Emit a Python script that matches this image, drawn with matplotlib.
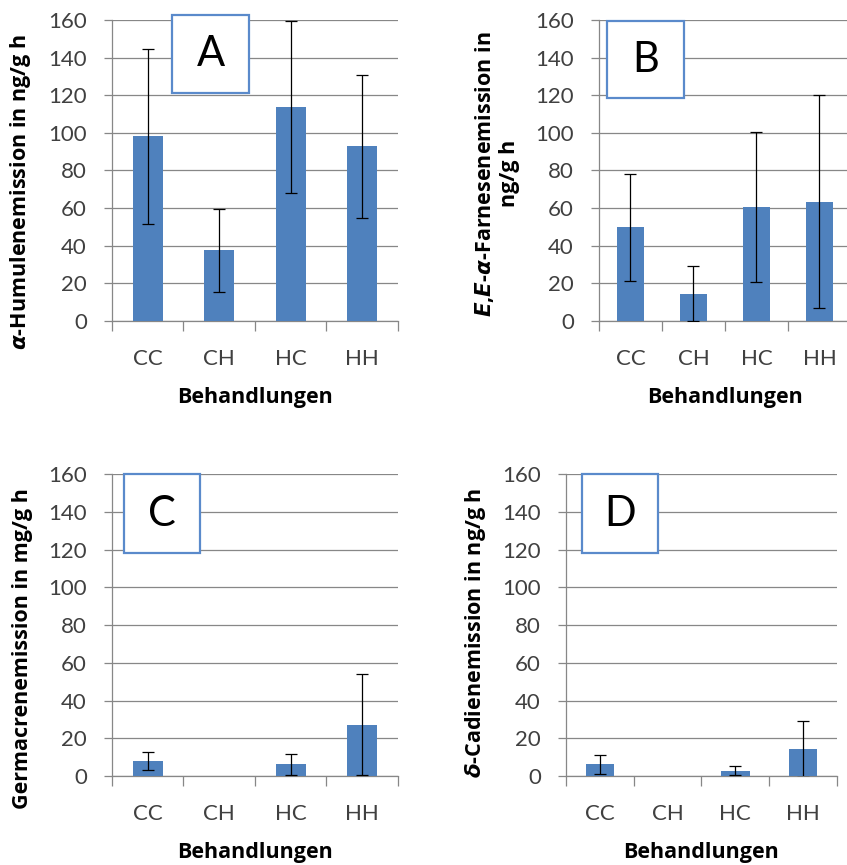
import matplotlib.pyplot as plt
from matplotlib.patches import Rectangle

plt.rcParams['font.family'] = ['Lato', 'DejaVu Sans']
plt.rcParams['mathtext.fontset'] = 'custom'
plt.rcParams['mathtext.it'] = 'DejaVu Sans:italic:bold'
plt.rcParams['mathtext.rm'] = 'Open Sans:bold'

# Treatments and mean emission +/- SD for each compound
behandlungen = ['CC', 'CH', 'HC', 'HH']
humulen = [98.2, 37.6, 113.7, 92.8]
humulen_sd = [46.5, 22.0, 45.7, 37.8]
farnesen = [49.8, 14.5, 60.6, 63.4]
farnesen_sd = [28.3, 14.6, 40.0, 56.5]
germacren = [8.1, 0.0, 6.2, 27.2]
germacren_sd = [4.7, 0.0, 5.5, 26.8]
cadien = [6.2, 0.0, 2.8, 14.2]
cadien_sd = [5.0, 0.0, 2.3, 14.7]

bar_color = '#4f81bd'
grid_color = '#878787'
box_color = '#5a8acb'
label_font = ['Open Sans', 'DejaVu Sans']

fig = plt.figure(figsize=(8.47, 8.65), dpi=100)

panels = [
    # axes rect, values, sd, ylabel, ylabel x/y, letter, letter box
    ([0.1322, 0.6289, 0.3377, 0.348], humulen, humulen_sd,
     r'$\mathit{α}$-Humulenemission in ng/g h', (0.039, 0.778), 'A',
     [0.2031, 0.8925, 0.0909, 0.0902]),
    ([0.7072, 0.6289, 0.2975, 0.348], farnesen, farnesen_sd,
     '$\\mathit{E}$,$\\mathit{E}$-$\\mathit{α}$-Farnesenemission in\nng/g h',
     (0.614, 0.799), 'B', [0.7166, 0.8867, 0.0909, 0.0890]),
    ([0.1322, 0.1029, 0.3377, 0.349], germacren, germacren_sd,
     'Germacrenemission in mg/g h', (0.039, 0.250), 'C',
     [0.1464, 0.3607, 0.0897, 0.0913]),
    ([0.6682, 0.1029, 0.3200, 0.349], cadien, cadien_sd,
     r'$\mathit{δ}$-Cadienemission in ng/g h', (0.576, 0.268), 'D',
     [0.6871, 0.3607, 0.0897, 0.0913]),
]

x = range(len(behandlungen))

for rect, vals, sd, ylab, ylab_pos, letter, box in panels:
    ax = fig.add_axes(rect)
    ax.bar(x, vals, width=0.42, color=bar_color, zorder=3)
    shown = [i for i, v in enumerate(vals) if v > 0]
    ax.errorbar([x[i] for i in shown], [vals[i] for i in shown],
                yerr=[sd[i] for i in shown], fmt='none', ecolor='black',
                elinewidth=0.9, capsize=4, capthick=0.9, zorder=4)

    ax.set_xlim(-0.5, 3.5)
    ax.set_ylim(0, 160)
    ax.set_yticks(range(0, 161, 20))
    ax.grid(True, axis='y', color=grid_color, linewidth=0.9, zorder=0)

    ax.set_xticks(list(x))
    ax.set_xticklabels(behandlungen)
    ax.set_xticks([-0.5, 0.5, 1.5, 2.5, 3.5], minor=True)
    ax.tick_params(axis='x', which='major', length=0, pad=20,
                   labelsize=16, labelcolor='#404040')
    ax.tick_params(axis='x', which='minor', length=7, width=0.9,
                   color=grid_color, direction='out')
    ax.tick_params(axis='y', length=6, width=0.9, color=grid_color,
                   pad=12, labelsize=16, labelcolor='#404040')

    for side in ['top', 'right']:
        ax.spines[side].set_visible(False)
    for side in ['left', 'bottom']:
        ax.spines[side].set_color(grid_color)
        ax.spines[side].set_linewidth(0.9)

    ax.set_xlabel('Behandlungen', fontsize=15.5, fontweight='bold',
                  family=label_font, labelpad=13)
    ax.set_ylabel(ylab, fontsize=15.5, fontweight='bold', family=label_font,
                  multialignment='center')
    ax.yaxis.set_label_coords(ylab_pos[0], ylab_pos[1],
                              transform=fig.transFigure)

    fig.add_artist(Rectangle((box[0], box[1]), box[2], box[3],
                             transform=fig.transFigure, facecolor='white',
                             edgecolor=box_color, linewidth=1.6, zorder=10))
    fig.text(box[0] + box[2] / 2, box[1] + box[3] / 2, letter,
             fontsize=30, ha='center', va='center', zorder=11)

fig.savefig('out.png', dpi=100)
